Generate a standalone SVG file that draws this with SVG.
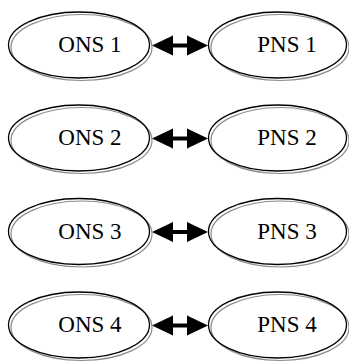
<svg xmlns="http://www.w3.org/2000/svg" width="349" height="363" viewBox="0 0 349 363">
<style>
.shadow{fill:none;stroke:#8c8c8c;stroke-width:1.2}
.outline{fill:none;stroke:#000;stroke-width:1.3}
.label{font-family:"Liberation Serif","Times New Roman",serif;font-size:23px;fill:#000;text-anchor:middle}
</style>
<defs>
<path id="dbl" d="M152,0 L173,-10 L173,-2 L187,-2 L187,-10 L208,0 L187,10 L187,2 L173,2 L173,10 Z" fill="#000"/>
</defs>
<rect width="349" height="363" fill="#fff"/>
<g id="ons1"><ellipse class="shadow" cx="81.5" cy="47.5" rx="70.5" ry="33"/><ellipse class="outline" cx="79" cy="45" rx="70.5" ry="33"/><text class="label" x="90" y="52">ONS 1</text></g>
<g id="pns1"><ellipse class="shadow" cx="280" cy="47.5" rx="69" ry="33"/><ellipse class="outline" cx="277.5" cy="45" rx="69" ry="33"/><text class="label" x="287" y="52">PNS 1</text></g>
<g id="ons2"><ellipse class="shadow" cx="81.5" cy="140.5" rx="70.5" ry="33"/><ellipse class="outline" cx="79" cy="138" rx="70.5" ry="33"/><text class="label" x="90" y="145">ONS 2</text></g>
<g id="pns2"><ellipse class="shadow" cx="280" cy="140.5" rx="69" ry="33"/><ellipse class="outline" cx="277.5" cy="138" rx="69" ry="33"/><text class="label" x="287" y="145">PNS 2</text></g>
<g id="ons3"><ellipse class="shadow" cx="81.5" cy="234" rx="70.5" ry="33"/><ellipse class="outline" cx="79" cy="231.5" rx="70.5" ry="33"/><text class="label" x="90" y="238.5">ONS 3</text></g>
<g id="pns3"><ellipse class="shadow" cx="280" cy="234" rx="69" ry="33"/><ellipse class="outline" cx="277.5" cy="231.5" rx="69" ry="33"/><text class="label" x="287" y="238.5">PNS 3</text></g>
<g id="ons4"><ellipse class="shadow" cx="81.5" cy="327.5" rx="70.5" ry="33"/><ellipse class="outline" cx="79" cy="325" rx="70.5" ry="33"/><text class="label" x="90" y="332">ONS 4</text></g>
<g id="pns4"><ellipse class="shadow" cx="280" cy="327.5" rx="69" ry="33"/><ellipse class="outline" cx="277.5" cy="325" rx="69" ry="33"/><text class="label" x="287" y="332">PNS 4</text></g>
<g id="connectors">
<use href="#dbl" y="45.5"/>
<use href="#dbl" y="138.5"/>
<use href="#dbl" y="232"/>
<use href="#dbl" y="325.5"/>
</g>
</svg>
